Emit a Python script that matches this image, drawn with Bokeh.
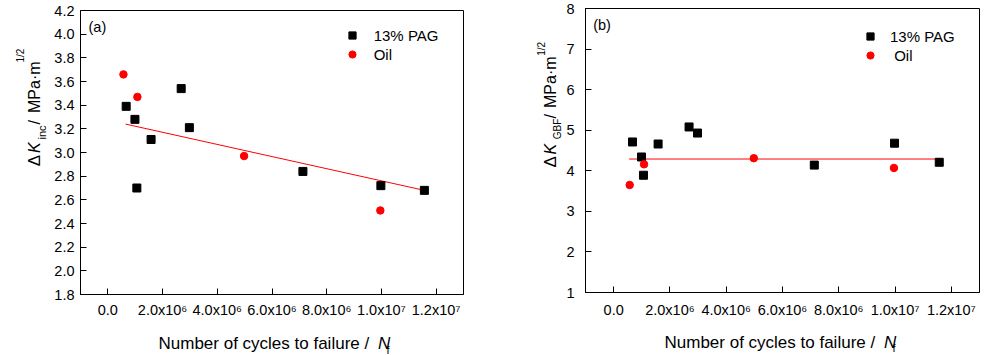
import math
from bokeh.plotting import figure
from bokeh.layouts import row, column
from bokeh.models import FixedTicker, Label, Legend, LegendItem, PrintfTickFormatter
from bokeh.embed import file_html
from bokeh.resources import INLINE

# ---------------- data ----------------
pag_cycles = [0.67e6, 0.99e6, 1.06e6, 1.58e6, 2.68e6, 2.98e6, 7.13e6, 9.98e6, 11.57e6]
oil_cycles = [0.57e6, 1.08e6, 4.98e6, 9.96e6]

pag_dk_inc = [3.39, 3.28, 2.70, 3.11, 3.54, 3.21, 2.84, 2.72, 2.68]
oil_dk_inc = [3.66, 3.47, 2.97, 2.51]
fit_inc_cycles = [0.65e6, 11.57e6]
fit_inc_dk = [3.24, 2.68]

pag_dk_gbf = [4.71, 4.34, 3.89, 4.66, 5.08, 4.93, 4.14, 4.68, 4.21]
oil_dk_gbf = [3.65, 4.16, 4.31, 4.07]
fit_gbf_cycles = [0.55e6, 11.65e6]
fit_gbf_dk = [4.29, 4.29]

x_ticks = [0, 2000000, 4000000, 6000000, 8000000, 10000000, 12000000]
x_tick_labels = ["0.0", "2.0x10\u2076", "4.0x10\u2076", "6.0x10\u2076", "8.0x10\u2076",
                 "1.0x10\u2077", "1.2x10\u2077"]
y_ticks_a = [1.8, 2.0, 2.2, 2.4, 2.6, 2.8, 3.0, 3.2, 3.4, 3.6, 3.8, 4.0, 4.2]
y_ticks_b = [1, 2, 3, 4, 5, 6, 7, 8]

series_names = ["13% PAG", "Oil"]

FONT = "Liberation Sans"
R = math.pi / 2


def make_fig(width, yr, yticks, yfmt, mbl, mbr, mbt, mbb, ystand, xstand):
    p = figure(width=width, height=320, x_range=(-1e6, 1.3e7), y_range=yr,
               output_backend="svg", toolbar_location=None,
               min_border_left=mbl, min_border_right=mbr,
               min_border_top=mbt, min_border_bottom=mbb)
    p.grid.visible = False
    p.outline_line_color = "black"
    p.outline_line_width = 1
    p.background_fill_color = "white"
    p.border_fill_color = "white"
    for ax in (p.xaxis[0], p.yaxis[0]):
        ax.axis_line_color = "black"
        ax.major_tick_in = 6
        ax.major_tick_out = 0
        ax.minor_tick_line_color = None
        ax.major_tick_line_color = "black"
        ax.major_label_text_font = FONT
        ax.major_label_text_font_size = "14.5px"
        ax.major_label_text_color = "black"
    p.xaxis.ticker = FixedTicker(ticks=x_ticks)
    p.xaxis.major_label_overrides = dict(zip(x_ticks, x_tick_labels))
    p.xaxis.major_label_standoff = xstand
    p.yaxis.ticker = FixedTicker(ticks=yticks)
    p.yaxis.formatter = PrintfTickFormatter(format=yfmt)
    p.yaxis.major_label_standoff = ystand
    return p


def strip(width, height):
    s = figure(width=width, height=height, x_range=(0, width), y_range=(0, height),
               output_backend="svg", toolbar_location=None,
               x_axis_type=None, y_axis_type=None, min_border=0)
    s.grid.visible = False
    s.outline_line_color = None
    s.background_fill_color = "white"
    s.border_fill_color = "white"
    return s


def add_text(p, ox, ob, text, X, Y, size="16px", style="normal", angle=0.0):
    # X, Y: page pixel position; (ox, ob): page position of the frame's left/bottom
    p.add_layout(Label(x=X - ox, y=ob - Y, x_units="screen", y_units="screen",
                       text=text, text_font=FONT, text_font_size=size,
                       text_font_style=style, text_color="black",
                       text_align="left", text_baseline="alphabetic",
                       angle=angle, angle_units="rad"))


def add_series(p, pag_y, oil_y, fit_x, fit_y, loc, standoff, oil_label):
    p.line(fit_x, fit_y, line_color="red", line_width=1)
    r_sq = p.scatter(pag_cycles, pag_y, marker="square", size=8, fill_color="black",
                     line_color="black")
    r_ci = p.scatter(oil_cycles, oil_y, marker="circle", size=7.5, fill_color="red",
                     line_color="red")
    leg = Legend(items=[LegendItem(label=series_names[0], renderers=[r_sq]),
                        LegendItem(label=oil_label, renderers=[r_ci])],
                 location=loc, padding=0, margin=0, spacing=1,
                 glyph_width=18, glyph_height=18, label_height=18, label_width=20,
                 label_standoff=standoff, border_line_color=None,
                 background_fill_alpha=0,
                 label_text_font=FONT, label_text_font_size="15px",
                 label_text_color="black")
    p.add_layout(leg)


# ---------------- panel (a) ----------------
ylab_a = strip(50, 320)
pa = make_fig(440, (1.8, 4.2), y_ticks_a, "%.1f", 30, 27, 10, 25, 6, 7)
xlab_a = strip(490, 35)
add_series(pa, pag_dk_inc, oil_dk_inc, fit_inc_cycles, fit_inc_dk, (262.7, 231), 13,
           series_names[1])
add_text(pa, 80, 295, "(a)", 88, 27.5, size="14.5px")
add_text(xlab_a, 0, 355, "Number of cycles to failure /", 158, 343.3, size="17px")
add_text(xlab_a, 0, 355, "N", 377.5, 343.3, size="17px", style="italic")
add_text(xlab_a, 0, 355, "f", 386, 349, size="11px")
add_text(ylab_a, 0, 320, "\u0394", 34, 191.7, size="17px", angle=R)
add_text(ylab_a, 0, 320, "K", 34, 178.5, style="italic", angle=R)
add_text(ylab_a, 0, 320, "inc", 41.5, 165, size="11px", angle=R)
add_text(ylab_a, 0, 320, "/", 34, 150, angle=R)
add_text(ylab_a, 0, 320, "MPa\u00b7m", 34, 138.5, angle=R)
add_text(ylab_a, 0, 320, "1/2", 20, 88, size="10px", angle=R)

# ---------------- panel (b) ----------------
ylab_b = strip(73, 320)
pb = make_fig(425, (1, 8), y_ticks_b, "%d", 21, 9, 8, 28, 11, 9)
xlab_b = strip(498, 35)
add_series(pb, pag_dk_gbf, oil_dk_gbf, fit_gbf_cycles, fit_gbf_dk, (276, 228), 11,
           " " + series_names[1])
add_text(pb, 584, 292, "(b)", 591.7, 24, size="14.5px")
add_text(xlab_b, 490, 355, "Number of cycles to failure /", 664, 341.7, size="17px")
add_text(xlab_b, 490, 355, "N", 883.5, 341.7, size="17px", style="italic")
add_text(xlab_b, 490, 355, "f", 892, 347.5, size="11px")
add_text(ylab_b, 490, 320, "\u0394", 550, 195, size="17px", angle=R)
add_text(ylab_b, 490, 320, "K", 550, 182, style="italic", angle=R)
add_text(ylab_b, 490, 320, "GBF", 556.7, 166.7, size="10px", angle=R)
add_text(ylab_b, 490, 320, "/", 550, 146, angle=R)
add_text(ylab_b, 490, 320, "MPa\u00b7m", 550, 135.5, angle=R)
add_text(ylab_b, 490, 320, "1/2", 540.5, 83.3, size="10px", angle=R)

layout = row(column(row(ylab_a, pa), xlab_a), column(row(ylab_b, pb), xlab_b))
open("out.html", "w").write(file_html(layout, INLINE))
